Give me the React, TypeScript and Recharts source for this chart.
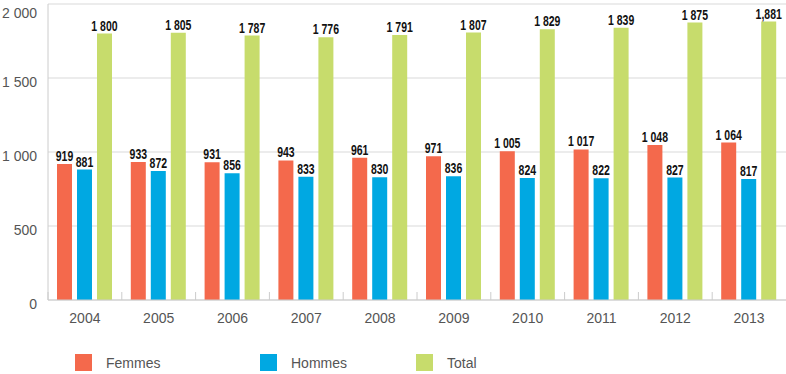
import { BarChart, Bar, XAxis, YAxis, CartesianGrid, LabelList } from 'recharts'

const years = ['2004', '2005', '2006', '2007', '2008', '2009', '2010', '2011', '2012', '2013']
const femmes = [919, 933, 931, 943, 961, 971, 1005, 1017, 1048, 1064]
const hommes = [881, 872, 856, 833, 830, 836, 824, 822, 827, 817]
const total = [1800, 1805, 1787, 1776, 1791, 1807, 1829, 1839, 1875, 1881]
const totalLabels = ['1 800', '1 805', '1 787', '1 776', '1 791', '1 807', '1 829', '1 839', '1 875', '1,881']
const yTicks = [0, 500, 1000, 1500, 2000]

const COLORS = { femmes: '#f4694c', hommes: '#00a8e2', total: '#c7dc6c' }

const fmt = (v: number) => String(v).replace(/\B(?=(\d{3})+(?!\d))/g, ' ')

const data = years.map((year, i) => ({
  year,
  femmes: femmes[i],
  hommes: hommes[i],
  total: total[i],
  femmesLabel: fmt(femmes[i]),
  hommesLabel: fmt(hommes[i]),
  totalLabel: totalLabels[i],
}))

if (typeof document !== 'undefined') document.body.style.margin = '0'

const axisFont = 'Arial, "Liberation Sans", sans-serif'
const BAND = 738 / years.length

const YTick = ({ x, y, payload }: any) => (
  <text x={x} y={y + 5} textAnchor="end" dominantBaseline="middle" fill="#555" fontSize={14} fontFamily={axisFont}>
    {fmt(payload.value)}
  </text>
)

const XTick = ({ x, y, payload }: any) => (
  <g>
    <line x1={x - BAND / 2} x2={x - BAND / 2} y1={y - 8} y2={y} stroke="#ccc" />
    <text x={x} y={y + 19} textAnchor="middle" dominantBaseline="middle" fill="#555" fontSize={14} fontFamily={axisFont}>
      {payload.value}
    </text>
  </g>
)

// condensed bold value label drawn above each bar
const ValueLabel = (props: any) => {
  const { x, y, width, value } = props
  const cx = x + width / 2
  return (
    <text
      transform={`translate(${cx},${y - 3}) scale(0.7,1)`}
      textAnchor="middle"
      fill="#111"
      fontSize={15}
      fontWeight={700}
      fontFamily={axisFont}
    >
      {value}
    </text>
  )
}

const legendItems = [
  { name: 'Femmes', color: COLORS.femmes, left: 75 },
  { name: 'Hommes', color: COLORS.hommes, left: 260 },
  { name: 'Total', color: COLORS.total, left: 416 },
]

export default function App() {
  return (
    <div style={{ position: 'relative', width: 786, height: 374, background: '#fff' }}>
      <BarChart width={786} height={374} data={data} margin={{ top: 4, right: 0, bottom: 0, left: 0 }} barSize={15} barGap={5}>
        <CartesianGrid vertical={false} stroke="#d9d9d9" />
        <XAxis dataKey="year" height={74} tickSize={0} tickMargin={0} tickLine={false} axisLine={{ stroke: '#ccc' }} tick={<XTick />} interval={0} />
        <YAxis width={48} domain={[0, 2000]} ticks={yTicks} tickLine={false} tickSize={0} tickMargin={11} axisLine={{ stroke: '#ccc' }} tick={<YTick />} />
        <Bar dataKey="femmes" fill={COLORS.femmes} isAnimationActive={false}>
          <LabelList dataKey="femmesLabel" content={<ValueLabel />} />
        </Bar>
        <Bar dataKey="hommes" fill={COLORS.hommes} isAnimationActive={false}>
          <LabelList dataKey="hommesLabel" content={<ValueLabel />} />
        </Bar>
        <Bar dataKey="total" fill={COLORS.total} isAnimationActive={false}>
          <LabelList dataKey="totalLabel" content={<ValueLabel />} />
        </Bar>
      </BarChart>
      {legendItems.map((item) => (
        <div
          key={item.name}
          style={{ position: 'absolute', left: item.left, top: 354, display: 'flex', alignItems: 'center', fontFamily: axisFont, fontSize: 14, color: '#555' }}
        >
          <span style={{ display: 'inline-block', width: 17, height: 17, background: item.color, marginRight: 14 }} />
          {item.name}
        </div>
      ))}
    </div>
  )
}
